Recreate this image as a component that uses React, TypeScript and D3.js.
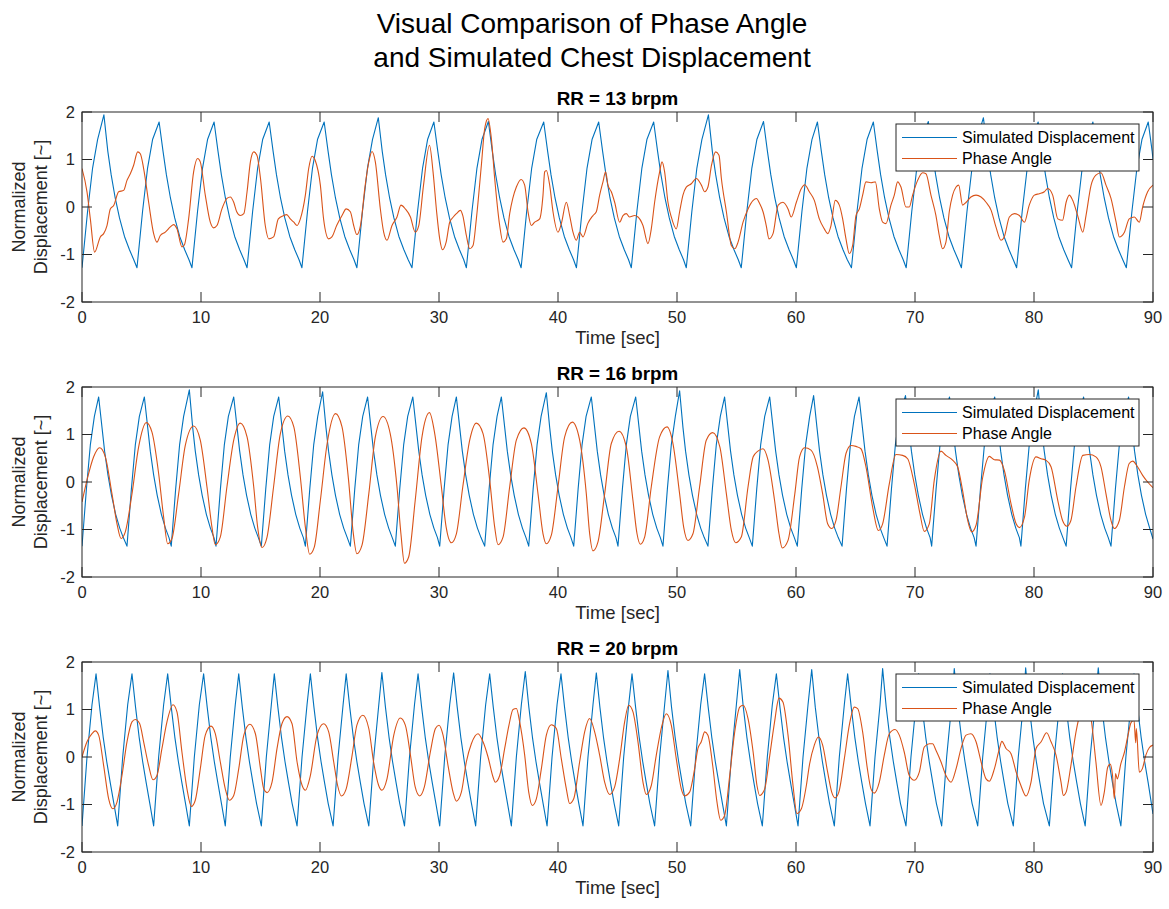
import React from "react";
import * as d3 from "d3";

type Pt = [number, number];

const timeTicks = [0, 10, 20, 30, 40, 50, 60, 70, 80, 90];
const valueTicks = [-2, -1, 0, 1, 2];
const mainTitle = ["Visual Comparison of Phase Angle", "and Simulated Chest Displacement"];
const panelTitles = ["RR = 13 brpm", "RR = 16 brpm", "RR = 20 brpm"];
const seriesNames = ["Simulated Displacement", "Phase Angle"];
const xLabel = "Time [sec]";
const yLabel = ["Normalized", "Displacement [~]"];

const displacement13: Pt[] = [
  [0,-1.28],[0.47,-0.09],[0.89,0.82],[1.31,1.42],[1.84,1.94],[2.17,1.17],[2.45,0.68],[2.79,0.19],[3.15,-0.23],[3.57,-0.62],[3.99,-0.9],[4.35,-1.11],
  [4.62,-1.28],[5.09,-0.09],[5.51,0.82],[5.93,1.42],[6.48,1.79],[6.81,1.17],[7.09,0.68],[7.43,0.19],[7.79,-0.23],[8.21,-0.62],[8.63,-0.9],[8.99,-1.11],
  [9.24,-1.28],[9.71,-0.09],[10.13,0.82],[10.55,1.42],[11.1,1.79],[11.43,1.17],[11.71,0.68],[12.05,0.19],[12.41,-0.23],[12.83,-0.62],[13.25,-0.9],[13.61,-1.11],
  [13.87,-1.28],[14.34,-0.09],[14.76,0.82],[15.18,1.42],[15.73,1.79],[16.06,1.17],[16.34,0.68],[16.68,0.19],[17.04,-0.23],[17.46,-0.62],[17.88,-0.9],[18.24,-1.11],
  [18.48,-1.28],[18.95,-0.09],[19.37,0.82],[19.79,1.42],[20.35,1.79],[20.68,1.17],[20.96,0.68],[21.3,0.19],[21.66,-0.23],[22.08,-0.62],[22.5,-0.9],[22.86,-1.11],
  [23.1,-1.28],[23.57,-0.09],[23.99,0.82],[24.41,1.42],[24.9,1.88],[25.23,1.17],[25.51,0.68],[25.85,0.19],[26.21,-0.23],[26.63,-0.62],[27.05,-0.9],[27.41,-1.11],
  [27.73,-1.28],[28.2,-0.09],[28.62,0.82],[29.04,1.42],[29.57,1.79],[29.9,1.17],[30.18,0.68],[30.52,0.19],[30.88,-0.23],[31.3,-0.62],[31.72,-0.9],[32.08,-1.11],
  [32.3,-1.28],[32.77,-0.09],[33.19,0.82],[33.61,1.42],[34.15,1.8],[34.48,1.17],[34.76,0.68],[35.1,0.19],[35.46,-0.23],[35.88,-0.62],[36.3,-0.9],[36.66,-1.11],
  [36.9,-1.28],[37.37,-0.09],[37.79,0.82],[38.21,1.42],[38.8,1.79],[39.13,1.17],[39.41,0.68],[39.75,0.19],[40.11,-0.23],[40.53,-0.62],[40.95,-0.9],[41.31,-1.11],
  [41.55,-1.28],[42.02,-0.09],[42.44,0.82],[42.86,1.42],[43.42,1.79],[43.75,1.17],[44.03,0.68],[44.37,0.19],[44.73,-0.23],[45.15,-0.62],[45.57,-0.9],[45.93,-1.11],
  [46.16,-1.28],[46.63,-0.09],[47.05,0.82],[47.47,1.42],[48.04,1.79],[48.37,1.17],[48.65,0.68],[48.99,0.19],[49.35,-0.23],[49.77,-0.62],[50.19,-0.9],[50.55,-1.11],
  [50.78,-1.28],[51.25,-0.09],[51.67,0.82],[52.09,1.42],[52.64,1.94],[52.97,1.17],[53.25,0.68],[53.59,0.19],[53.95,-0.23],[54.37,-0.62],[54.79,-0.9],[55.15,-1.11],
  [55.4,-1.28],[55.87,-0.09],[56.29,0.82],[56.71,1.42],[57.27,1.8],[57.6,1.17],[57.88,0.68],[58.22,0.19],[58.58,-0.23],[59.0,-0.62],[59.42,-0.9],[59.78,-1.11],
  [60.03,-1.28],[60.5,-0.09],[60.92,0.82],[61.34,1.42],[61.8,1.79],[62.13,1.17],[62.41,0.68],[62.75,0.19],[63.11,-0.23],[63.53,-0.62],[63.95,-0.9],[64.31,-1.11],
  [64.66,-1.28],[65.13,-0.09],[65.55,0.82],[65.97,1.42],[66.5,1.79],[66.83,1.17],[67.11,0.68],[67.45,0.19],[67.81,-0.23],[68.23,-0.62],[68.65,-0.9],[69.01,-1.11],
  [69.26,-1.28],[69.73,-0.09],[70.15,0.82],[70.57,1.42],[71.12,1.8],[71.45,1.17],[71.73,0.68],[72.07,0.19],[72.43,-0.23],[72.85,-0.62],[73.27,-0.9],[73.63,-1.11],
  [73.9,-1.28],[74.37,-0.09],[74.79,0.82],[75.21,1.42],[75.75,1.88],[76.08,1.17],[76.36,0.68],[76.7,0.19],[77.06,-0.23],[77.48,-0.62],[77.9,-0.9],[78.26,-1.11],
  [78.54,-1.28],[79.01,-0.09],[79.43,0.82],[79.85,1.42],[80.35,1.79],[80.68,1.17],[80.96,0.68],[81.3,0.19],[81.66,-0.23],[82.08,-0.62],[82.5,-0.9],[82.86,-1.11],
  [83.16,-1.28],[83.63,-0.09],[84.05,0.82],[84.47,1.42],[84.95,1.79],[85.28,1.17],[85.56,0.68],[85.9,0.19],[86.26,-0.23],[86.68,-0.62],[87.1,-0.9],[87.46,-1.11],
  [87.76,-1.28],[88.23,-0.09],[88.65,0.82],[89.07,1.42],[89.6,1.79],[89.93,1.17],[90,1.0]
];

const phase13: Pt[] = [
  [0,0.81],[0.42,0.32],[0.7,-0.25],[1.06,-0.95],[1.54,-0.63],[1.82,-0.56],[2.1,-0.39],[2.38,-0.04],[2.66,0.03],[3.08,0.32],[3.5,0.35],[3.78,0.56],[4.06,0.7],[4.34,0.88],[4.68,1.16],[4.9,1.12],[5.18,0.81],[5.6,0.1],[6.02,-0.56],[6.3,-0.74],[6.58,-0.6],[7.0,-0.53],[7.42,-0.42],[7.7,-0.37],[7.98,-0.46],[8.4,-0.84],[8.6,-0.8],[8.96,-0.25],[9.38,0.74],[9.72,1.02],[9.94,0.95],[10.36,0.25],[10.78,-0.32],[11.06,-0.44],[11.34,-0.39],[11.76,-0.04],[12.18,0.18],[12.46,0.21],[12.75,0.1],[13.0,-0.1],[13.3,-0.18],[13.6,-0.14],[13.87,0.32],[14.15,0.95],[14.43,1.16],[14.7,1.09],[15.0,0.6],[15.4,-0.39],[15.7,-0.67],[16.1,-0.63],[16.5,-0.25],[16.95,-0.18],[17.2,-0.16],[17.5,-0.25],[17.8,-0.32],[18.07,-0.39],[18.35,-0.25],[18.77,0.25],[19.05,0.81],[19.33,1.07],[19.6,0.98],[20.03,0.46],[20.3,-0.25],[20.73,-0.67],[21.0,-0.63],[21.4,-0.39],[21.85,-0.18],[22.2,-0.04],[22.55,-0.1],[22.83,-0.39],[23.1,-0.58],[23.4,-0.39],[23.8,0.46],[24.1,0.95],[24.37,1.17],[24.65,0.95],[25.07,-0.04],[25.35,-0.53],[25.63,-0.7],[26.05,-0.39],[26.47,-0.21],[26.8,0.04],[27.17,-0.04],[27.6,-0.21],[28.0,-0.53],[28.3,-0.39],[28.7,0.46],[29.2,1.3],[29.5,0.74],[29.8,-0.1],[30.06,-0.67],[30.3,-0.9],[30.6,-0.74],[30.9,-0.32],[31.2,-0.21],[31.46,-0.14],[31.8,-0.07],[32.0,-0.18],[32.3,-0.6],[32.58,-0.88],[32.86,-0.81],[33.14,-0.25],[33.56,0.88],[33.84,1.65],[34.12,1.86],[34.4,1.44],[34.68,0.6],[35.1,-0.39],[35.38,-0.74],[35.66,-0.67],[35.94,-0.14],[36.2,0.18],[36.5,0.42],[36.9,0.58],[37.2,0.46],[37.48,-0.1],[37.76,-0.39],[38.04,-0.32],[38.46,-0.25],[38.74,0.25],[38.88,0.74],[39.02,0.77],[39.3,0.46],[39.58,-0.1],[40.0,-0.53],[40.28,-0.35],[40.7,0.1],[40.98,-0.18],[41.26,-0.53],[41.54,-0.7],[41.82,-0.53],[42.1,-0.63],[42.5,-0.35],[42.94,-0.18],[43.22,-0.1],[43.5,0.25],[43.78,0.53],[44.0,0.74],[44.2,0.46],[44.48,0.32],[44.76,0.1],[45.18,-0.32],[45.46,-0.18],[45.74,-0.14],[46.0,-0.21],[46.44,-0.18],[46.72,-0.21],[47.14,-0.39],[47.56,-0.77],[47.84,-0.46],[48.12,0.1],[48.54,0.74],[48.74,0.95],[48.96,0.74],[49.24,0.1],[49.52,-0.21],[49.94,-0.46],[50.22,-0.1],[50.5,0.25],[50.78,0.42],[51.2,0.49],[51.62,0.6],[52.05,0.46],[52.33,0.32],[52.6,0.42],[52.9,0.88],[53.25,1.16],[53.53,1.09],[53.73,0.6],[54.15,-0.1],[54.57,-0.81],[54.85,-0.88],[55.13,-0.74],[55.55,-0.32],[55.97,-0.04],[56.4,0.14],[56.67,0.18],[56.95,0.07],[57.23,-0.1],[57.5,-0.39],[57.73,-0.67],[58.07,-0.56],[58.5,0.04],[58.9,0.1],[59.33,-0.04],[59.6,-0.21],[60.03,0.1],[60.45,0.39],[60.73,0.47],[61.12,0.32],[61.54,0.14],[61.96,-0.25],[62.38,-0.46],[62.66,-0.56],[62.94,-0.39],[63.3,0.14],[63.64,0.04],[63.92,-0.25],[64.2,-0.67],[64.48,-0.98],[64.76,-0.81],[65.04,-0.18],[65.32,-0.04],[65.6,0.25],[65.88,0.53],[66.3,0.51],[66.67,0.53],[67.0,-0.04],[67.28,-0.32],[67.56,-0.35],[67.98,0.04],[68.26,0.25],[68.54,0.53],[68.82,0.42],[69.24,0.0],[69.52,0.0],[69.8,0.25],[70.22,0.56],[70.64,0.72],[70.92,0.7],[71.34,0.25],[71.76,-0.18],[72.04,-0.6],[72.32,-0.88],[72.6,-0.74],[72.88,-0.1],[73.16,0.25],[73.45,0.42],[73.67,0.46],[74.0,0.04],[74.3,0.1],[74.7,0.21],[75.13,0.25],[75.55,0.21],[75.97,0.1],[76.4,-0.07],[76.8,-0.42],[77.23,-0.7],[77.5,-0.63],[77.93,-0.21],[78.35,-0.14],[78.77,-0.18],[79.2,-0.32],[79.6,0.04],[80.03,0.25],[80.45,0.28],[80.87,0.32],[81.15,0.39],[81.57,0.25],[82.0,-0.25],[82.4,-0.28],[82.7,0.1],[82.97,0.25],[83.25,0.14],[83.67,-0.18],[84.1,-0.53],[84.37,-0.18],[84.8,0.46],[85.2,0.67],[85.63,0.72],[86.05,0.46],[86.47,0.18],[86.9,-0.32],[87.17,-0.63],[87.6,-0.53],[88.0,-0.25],[88.43,-0.21],[88.85,-0.32],[89.13,0.0],[89.55,0.32],[90,0.46]
];

const displacement16: Pt[] = [
  [0,-1.35],[0.37,-0.15],[0.7,0.78],[1.04,1.38],[1.4,1.79],[1.68,1.15],[1.9,0.65],[2.18,0.15],[2.48,-0.28],[2.83,-0.68],[3.17,-0.97],[3.47,-1.17],
  [3.78,-1.35],[4.15,-0.15],[4.48,0.78],[4.82,1.38],[5.24,1.79],[5.52,1.15],[5.74,0.65],[6.02,0.15],[6.32,-0.28],[6.67,-0.68],[7.01,-0.97],[7.31,-1.17],
  [7.5,-1.35],[7.87,-0.15],[8.2,0.78],[8.54,1.38],[9.02,1.94],[9.3,1.15],[9.52,0.65],[9.8,0.15],[10.1,-0.28],[10.45,-0.68],[10.79,-0.97],[11.09,-1.17],
  [11.26,-1.35],[11.63,-0.15],[11.96,0.78],[12.3,1.38],[12.75,1.79],[13.03,1.15],[13.25,0.65],[13.53,0.15],[13.83,-0.28],[14.18,-0.68],[14.52,-0.97],[14.82,-1.17],
  [15.07,-1.35],[15.44,-0.15],[15.77,0.78],[16.11,1.38],[16.53,1.79],[16.81,1.15],[17.03,0.65],[17.31,0.15],[17.61,-0.28],[17.96,-0.68],[18.3,-0.97],[18.6,-1.17],
  [18.77,-1.35],[19.14,-0.15],[19.47,0.78],[19.81,1.38],[20.22,1.9],[20.5,1.15],[20.72,0.65],[21.0,0.15],[21.3,-0.28],[21.65,-0.68],[21.99,-0.97],[22.29,-1.17],
  [22.55,-1.35],[22.92,-0.15],[23.25,0.78],[23.59,1.38],[24.0,1.79],[24.28,1.15],[24.5,0.65],[24.78,0.15],[25.08,-0.28],[25.43,-0.68],[25.77,-0.97],[26.07,-1.17],
  [26.33,-1.35],[26.7,-0.15],[27.03,0.78],[27.37,1.38],[27.8,1.79],[28.08,1.15],[28.3,0.65],[28.58,0.15],[28.88,-0.28],[29.23,-0.68],[29.57,-0.97],[29.87,-1.17],
  [30.06,-1.35],[30.43,-0.15],[30.76,0.78],[31.1,1.38],[31.46,1.79],[31.74,1.15],[31.96,0.65],[32.24,0.15],[32.54,-0.28],[32.89,-0.68],[33.23,-0.97],[33.53,-1.17],
  [33.84,-1.35],[34.21,-0.15],[34.54,0.78],[34.88,1.38],[35.24,1.79],[35.52,1.15],[35.74,0.65],[36.02,0.15],[36.32,-0.28],[36.67,-0.68],[37.01,-0.97],[37.31,-1.17],
  [37.54,-1.35],[37.91,-0.15],[38.24,0.78],[38.58,1.38],[39.02,1.88],[39.3,1.15],[39.52,0.65],[39.8,0.15],[40.1,-0.28],[40.45,-0.68],[40.79,-0.97],[41.09,-1.17],
  [41.32,-1.35],[41.69,-0.15],[42.02,0.78],[42.36,1.38],[42.8,1.79],[43.08,1.15],[43.3,0.65],[43.58,0.15],[43.88,-0.28],[44.23,-0.68],[44.57,-0.97],[44.87,-1.17],
  [45.04,-1.35],[45.41,-0.15],[45.74,0.78],[46.08,1.38],[46.53,1.79],[46.81,1.15],[47.03,0.65],[47.31,0.15],[47.61,-0.28],[47.96,-0.68],[48.3,-0.97],[48.6,-1.17],
  [48.82,-1.35],[49.19,-0.15],[49.52,0.78],[49.86,1.38],[50.22,1.92],[50.5,1.15],[50.72,0.65],[51.0,0.15],[51.3,-0.28],[51.65,-0.68],[51.99,-0.97],[52.29,-1.17],
  [52.6,-1.35],[52.97,-0.15],[53.3,0.78],[53.64,1.38],[54.0,1.79],[54.28,1.15],[54.5,0.65],[54.78,0.15],[55.08,-0.28],[55.43,-0.68],[55.77,-0.97],[56.07,-1.17],
  [56.33,-1.35],[56.7,-0.15],[57.03,0.78],[57.37,1.38],[57.79,1.79],[58.07,1.15],[58.29,0.65],[58.57,0.15],[58.87,-0.28],[59.22,-0.68],[59.56,-0.97],[59.86,-1.17],
  [60.11,-1.35],[60.48,-0.15],[60.81,0.78],[61.15,1.38],[61.48,1.82],[61.76,1.15],[61.98,0.65],[62.26,0.15],[62.56,-0.28],[62.91,-0.68],[63.25,-0.97],[63.55,-1.17],
  [63.87,-1.35],[64.24,-0.15],[64.57,0.78],[64.91,1.38],[65.3,1.79],[65.58,1.15],[65.8,0.65],[66.08,0.15],[66.38,-0.28],[66.73,-0.68],[67.07,-0.97],[67.37,-1.17],
  [67.65,-1.35],[68.02,-0.15],[68.35,0.78],[68.69,1.38],[69.2,1.82],[69.48,1.15],[69.7,0.65],[69.98,0.15],[70.28,-0.28],[70.63,-0.68],[70.97,-0.97],[71.27,-1.17],
  [71.4,-1.35],[71.77,-0.15],[72.1,0.78],[72.44,1.38],[72.9,1.79],[73.18,1.15],[73.4,0.65],[73.68,0.15],[73.98,-0.28],[74.33,-0.68],[74.67,-0.97],[74.97,-1.17],
  [75.13,-1.35],[75.5,-0.15],[75.83,0.78],[76.17,1.38],[76.7,1.79],[76.98,1.15],[77.2,0.65],[77.48,0.15],[77.78,-0.28],[78.13,-0.68],[78.47,-0.97],[78.77,-1.17],
  [78.9,-1.35],[79.27,-0.15],[79.6,0.78],[79.94,1.38],[80.36,1.94],[80.64,1.15],[80.86,0.65],[81.14,0.15],[81.44,-0.28],[81.79,-0.68],[82.13,-0.97],[82.43,-1.17],
  [82.7,-1.35],[83.07,-0.15],[83.4,0.78],[83.74,1.38],[84.17,1.79],[84.45,1.15],[84.67,0.65],[84.95,0.15],[85.25,-0.28],[85.6,-0.68],[85.94,-0.97],[86.24,-1.17],
  [86.47,-1.35],[86.84,-0.15],[87.17,0.78],[87.51,1.38],[87.95,1.79],[88.23,1.15],[88.45,0.65],[88.73,0.15],[89.03,-0.28],[89.38,-0.68],[89.72,-0.97],[90,-1.2]
];

const phase16: Pt[] = [
  [0,-0.42],[0.42,0.04],[0.98,0.53],[1.48,0.72],[1.96,0.53],[2.52,-0.25],[2.94,-0.88],[3.28,-1.19],[3.64,-1.05],[4.2,-0.25],[4.76,0.74],[5.4,1.25],[5.88,1.05],[6.44,0.18],[6.86,-0.74],[7.2,-1.3],[7.56,-1.19],[8.12,-0.25],[8.68,0.77],[9.38,1.18],[9.94,0.88],[10.5,-0.1],[10.92,-0.95],[11.2,-1.32],[11.62,-1.16],[12.18,-0.1],[12.75,0.88],[13.3,1.24],[13.87,0.95],[14.43,-0.1],[14.76,-0.95],[15.13,-1.38],[15.55,-1.16],[16.1,-0.1],[16.67,1.02],[17.3,1.39],[17.8,1.16],[18.35,0.1],[18.77,-0.95],[19.13,-1.52],[19.52,-1.37],[20.03,-0.39],[20.6,0.81],[21.3,1.44],[21.85,1.16],[22.4,0.04],[22.77,-1.02],[23.1,-1.51],[23.53,-1.33],[24.1,-0.25],[24.65,0.95],[25.3,1.38],[25.9,1.02],[26.47,-0.1],[26.8,-1.09],[27.1,-1.71],[27.45,-1.58],[28.0,-0.39],[28.57,0.95],[29.2,1.46],[29.64,1.02],[30.2,-0.1],[30.6,-0.95],[31.04,-1.28],[31.46,-1.09],[32.0,-0.1],[32.58,0.88],[33.14,1.24],[33.7,1.02],[34.26,0.04],[34.68,-0.95],[34.96,-1.32],[35.38,-1.16],[35.94,-0.1],[36.5,0.88],[37.14,1.14],[37.76,0.81],[38.32,-0.25],[38.74,-1.09],[39.02,-1.3],[39.44,-1.12],[40.0,-0.1],[40.56,0.95],[41.2,1.26],[41.82,0.88],[42.38,-0.25],[42.66,-1.09],[42.94,-1.45],[43.36,-1.26],[43.92,-0.25],[44.48,0.81],[45.13,1.07],[45.74,0.74],[46.3,-0.39],[46.64,-1.09],[46.92,-1.31],[47.28,-1.16],[47.84,-0.1],[48.54,0.95],[49.16,1.16],[49.66,0.81],[50.22,-0.25],[50.56,-0.95],[50.92,-1.23],[51.34,-1.09],[51.9,-0.1],[52.46,0.88],[53.0,1.04],[53.6,0.74],[54.15,-0.25],[54.57,-1.02],[54.93,-1.28],[55.4,-1.16],[55.97,-0.1],[56.4,0.53],[56.8,0.65],[57.23,0.7],[57.65,0.46],[58.2,-0.39],[58.57,-1.09],[58.85,-1.39],[59.33,-1.23],[59.9,-0.25],[60.3,0.53],[60.73,0.72],[61.26,0.67],[61.8,0.32],[62.24,-0.25],[62.66,-0.88],[63.0,-0.98],[63.36,-0.81],[63.78,-0.1],[64.2,0.6],[64.62,0.77],[65.04,0.75],[65.46,0.7],[65.88,0.32],[66.44,-0.53],[66.92,-1.02],[67.28,-0.88],[67.84,-0.04],[68.4,0.58],[68.96,0.56],[69.38,0.49],[69.94,-0.04],[70.42,-0.67],[70.78,-1.04],[71.2,-0.88],[71.62,0.04],[72.18,0.65],[72.6,0.56],[73.16,0.46],[73.58,0.32],[74.0,-0.18],[74.43,-0.81],[74.76,-1.05],[75.13,-0.91],[75.69,0.1],[76.25,0.54],[76.67,0.47],[77.1,0.46],[77.5,0.25],[78.07,-0.46],[78.5,-0.88],[78.77,-0.96],[79.2,-0.74],[79.6,0.04],[80.17,0.53],[80.6,0.49],[81.0,0.46],[81.43,0.32],[82.0,-0.39],[82.4,-0.81],[82.77,-0.93],[83.1,-0.81],[83.53,-0.1],[84.1,0.56],[84.65,0.58],[85.2,0.53],[85.63,0.32],[86.05,-0.25],[86.47,-0.81],[86.75,-0.98],[87.17,-0.81],[87.6,-0.1],[88.0,0.39],[88.3,0.44],[88.7,0.32],[89.13,0.14],[89.55,0.0],[90,-0.12]
];

const displacement20: Pt[] = [
  [0,-1.45],[0.42,0.0],[0.84,1.1],[1.18,1.75],[1.48,1.05],[1.78,0.42],[2.08,-0.1],[2.38,-0.55],[2.68,-0.98],
  [3.0,-1.45],[3.42,0.0],[3.84,1.1],[4.2,1.75],[4.5,1.05],[4.8,0.42],[5.1,-0.1],[5.4,-0.55],[5.7,-0.98],
  [6.02,-1.45],[6.44,0.0],[6.86,1.1],[7.2,1.75],[7.5,1.05],[7.8,0.42],[8.1,-0.1],[8.4,-0.55],[8.7,-0.98],
  [9.02,-1.45],[9.44,0.0],[9.86,1.1],[10.22,1.75],[10.52,1.05],[10.82,0.42],[11.12,-0.1],[11.42,-0.55],[11.72,-0.98],
  [12.04,-1.45],[12.46,0.0],[12.88,1.1],[13.17,1.75],[13.47,1.05],[13.77,0.42],[14.07,-0.1],[14.37,-0.55],[14.67,-0.98],
  [15.07,-1.45],[15.49,0.0],[15.91,1.1],[16.16,1.75],[16.46,1.05],[16.76,0.42],[17.06,-0.1],[17.36,-0.55],[17.66,-0.98],
  [18.07,-1.45],[18.49,0.0],[18.91,1.1],[19.19,1.75],[19.49,1.05],[19.79,0.42],[20.09,-0.1],[20.39,-0.55],[20.69,-0.98],
  [21.1,-1.45],[21.52,0.0],[21.94,1.1],[22.2,1.75],[22.5,1.05],[22.8,0.42],[23.1,-0.1],[23.4,-0.55],[23.7,-0.98],
  [24.1,-1.45],[24.52,0.0],[24.94,1.1],[25.2,1.78],[25.5,1.05],[25.8,0.42],[26.1,-0.1],[26.4,-0.55],[26.7,-0.98],
  [27.1,-1.45],[27.52,0.0],[27.94,1.1],[28.24,1.75],[28.54,1.05],[28.84,0.42],[29.14,-0.1],[29.44,-0.55],[29.74,-0.98],
  [30.06,-1.45],[30.48,0.0],[30.9,1.1],[31.23,1.77],[31.53,1.05],[31.83,0.42],[32.13,-0.1],[32.43,-0.55],[32.73,-0.98],
  [33.08,-1.45],[33.5,0.0],[33.92,1.1],[34.26,1.75],[34.56,1.05],[34.86,0.42],[35.16,-0.1],[35.46,-0.55],[35.76,-0.98],
  [36.08,-1.45],[36.5,0.0],[36.92,1.1],[37.25,1.8],[37.55,1.05],[37.85,0.42],[38.15,-0.1],[38.45,-0.55],[38.75,-0.98],
  [39.08,-1.45],[39.5,0.0],[39.92,1.1],[40.25,1.75],[40.55,1.05],[40.85,0.42],[41.15,-0.1],[41.45,-0.55],[41.75,-0.98],
  [42.1,-1.45],[42.52,0.0],[42.94,1.1],[43.22,1.77],[43.52,1.05],[43.82,0.42],[44.12,-0.1],[44.42,-0.55],[44.72,-0.98],
  [45.1,-1.45],[45.52,0.0],[45.94,1.1],[46.22,1.75],[46.52,1.05],[46.82,0.42],[47.12,-0.1],[47.42,-0.55],[47.72,-0.98],
  [48.12,-1.45],[48.54,0.0],[48.96,1.1],[49.24,1.82],[49.54,1.05],[49.84,0.42],[50.14,-0.1],[50.44,-0.55],[50.74,-0.98],
  [51.15,-1.45],[51.57,0.0],[51.99,1.1],[52.32,1.75],[52.62,1.05],[52.92,0.42],[53.22,-0.1],[53.52,-0.55],[53.82,-0.98],
  [54.15,-1.45],[54.57,0.0],[54.99,1.1],[55.27,1.84],[55.57,1.05],[55.87,0.42],[56.17,-0.1],[56.47,-0.55],[56.77,-0.98],
  [57.17,-1.45],[57.59,0.0],[58.01,1.1],[58.35,1.75],[58.65,1.05],[58.95,0.42],[59.25,-0.1],[59.55,-0.55],[59.85,-0.98],
  [60.17,-1.45],[60.59,0.0],[61.01,1.1],[61.32,1.84],[61.62,1.05],[61.92,0.42],[62.22,-0.1],[62.52,-0.55],[62.82,-0.98],
  [63.22,-1.45],[63.64,0.0],[64.06,1.1],[64.34,1.75],[64.64,1.05],[64.94,0.42],[65.24,-0.1],[65.54,-0.55],[65.84,-0.98],
  [66.22,-1.45],[66.64,0.0],[67.06,1.1],[67.28,1.86],[67.58,1.05],[67.88,0.42],[68.18,-0.1],[68.48,-0.55],[68.78,-0.98],
  [69.24,-1.45],[69.66,0.0],[70.08,1.1],[70.3,1.75],[70.6,1.05],[70.9,0.42],[71.2,-0.1],[71.5,-0.55],[71.8,-0.98],
  [72.24,-1.45],[72.66,0.0],[73.08,1.1],[73.3,1.86],[73.6,1.05],[73.9,0.42],[74.2,-0.1],[74.5,-0.55],[74.8,-0.98],
  [75.27,-1.45],[75.69,0.0],[76.11,1.1],[76.3,1.75],[76.6,1.05],[76.9,0.42],[77.2,-0.1],[77.5,-0.55],[77.8,-0.98],
  [78.26,-1.45],[78.68,0.0],[79.1,1.1],[79.3,1.88],[79.6,1.05],[79.9,0.42],[80.2,-0.1],[80.5,-0.55],[80.8,-0.98],
  [81.29,-1.45],[81.71,0.0],[82.13,1.1],[82.4,1.75],[82.7,1.05],[83.0,0.42],[83.3,-0.1],[83.6,-0.55],[83.9,-0.98],
  [84.3,-1.45],[84.72,0.0],[85.14,1.1],[85.4,1.88],[85.7,1.05],[86.0,0.42],[86.3,-0.1],[86.6,-0.55],[86.9,-0.98],
  [87.3,-1.45],[87.72,0.0],[88.14,1.1],[88.4,1.75],[88.7,1.05],[89.0,0.42],[89.3,-0.1],[89.6,-0.55],[90,-1.2]
];

const phase20: Pt[] = [
  [0,0.0],[0.42,0.32],[0.84,0.49],[1.12,0.55],[1.4,0.46],[1.82,-0.18],[2.24,-0.88],[2.6,-1.09],[2.94,-0.95],[3.36,-0.39],[3.78,0.32],[4.2,0.74],[4.48,0.79],[4.85,0.7],[5.18,0.32],[5.6,-0.18],[5.97,-0.48],[6.3,-0.39],[6.72,0.18],[7.14,0.74],[7.65,1.1],[7.98,0.95],[8.4,0.1],[8.82,-0.67],[9.19,-1.04],[9.52,-0.91],[9.94,-0.25],[10.36,0.46],[10.84,0.65],[11.2,0.49],[11.62,-0.1],[12.04,-0.67],[12.38,-0.91],[12.75,-0.81],[13.17,-0.25],[13.6,0.46],[14.1,0.69],[14.57,0.49],[15.0,-0.25],[15.27,-0.67],[15.55,-0.75],[15.97,-0.53],[16.39,0.18],[16.8,0.7],[17.23,0.85],[17.65,0.7],[18.07,-0.1],[18.5,-0.6],[18.77,-0.7],[19.19,-0.39],[19.75,0.46],[20.3,0.7],[20.73,0.53],[21.15,-0.1],[21.48,-0.6],[21.8,-0.82],[22.2,-0.67],[22.7,0.04],[23.1,0.67],[23.6,0.88],[24.1,0.6],[24.5,-0.1],[24.93,-0.6],[25.2,-0.7],[25.63,-0.46],[26.2,0.46],[26.75,0.82],[27.17,0.67],[27.6,0.04],[28.0,-0.63],[28.38,-0.82],[28.77,-0.63],[29.27,0.1],[29.7,0.6],[30.0,0.67],[30.34,0.46],[30.76,-0.18],[31.18,-0.74],[31.46,-0.93],[31.88,-0.74],[32.3,-0.1],[32.72,0.28],[33.28,0.49],[33.7,0.32],[34.12,0.0],[34.54,-0.42],[34.73,-0.53],[35.1,-0.39],[35.52,0.18],[35.88,0.67],[36.22,1.0],[36.5,1.02],[36.78,0.74],[37.2,0.04],[37.54,-0.74],[37.84,-1.02],[38.18,-0.88],[38.6,-0.25],[39.02,0.46],[39.44,0.68],[39.86,0.6],[40.28,-0.04],[40.7,-0.67],[40.98,-0.98],[41.32,-0.88],[41.82,-0.1],[42.24,0.53],[42.66,0.81],[43.08,0.53],[43.5,0.04],[43.92,-0.53],[44.34,-0.79],[44.76,-0.63],[45.18,-0.04],[45.6,0.74],[45.94,1.09],[46.3,0.95],[46.72,0.32],[47.14,-0.53],[47.42,-0.79],[47.84,-0.6],[48.26,0.04],[48.74,0.67],[49.1,0.91],[49.52,0.67],[49.94,-0.04],[50.36,-0.67],[50.64,-0.82],[51.06,-0.74],[51.48,-0.25],[51.76,0.18],[52.04,0.32],[52.33,0.53],[52.6,0.46],[53.0,-0.18],[53.36,-0.95],[53.67,-1.33],[54.0,-1.23],[54.43,-0.39],[54.85,0.53],[55.27,1.05],[55.55,1.09],[55.97,0.81],[56.4,0.1],[56.72,-0.6],[56.95,-0.81],[57.37,-0.67],[57.8,0.04],[58.2,0.74],[58.57,1.24],[58.9,1.16],[59.33,0.46],[59.75,-0.6],[60.08,-1.19],[60.45,-1.09],[60.87,-0.6],[61.12,-0.18],[61.54,0.25],[61.88,0.42],[62.24,0.25],[62.66,-0.32],[63.0,-0.74],[63.28,-0.86],[63.6,-0.74],[64.06,-0.04],[64.48,0.67],[64.9,1.05],[65.18,1.02],[65.6,0.53],[66.0,-0.25],[66.3,-0.67],[66.58,-0.76],[67.0,-0.53],[67.42,0.04],[67.84,0.49],[68.32,0.58],[68.68,0.46],[69.1,0.1],[69.52,-0.39],[69.94,-0.49],[70.36,-0.32],[70.78,0.21],[71.2,0.28],[71.48,0.28],[71.76,0.14],[72.18,-0.1],[72.6,-0.39],[73.03,-0.53],[73.45,-0.25],[73.87,0.18],[74.29,0.46],[74.7,0.49],[75.13,0.32],[75.55,-0.1],[75.97,-0.46],[76.25,-0.51],[76.67,-0.25],[77.1,0.18],[77.3,0.33],[77.65,0.18],[78.07,0.07],[78.5,-0.32],[78.9,-0.6],[79.33,-0.82],[79.75,-0.53],[80.17,0.18],[80.6,0.32],[81.06,0.51],[81.43,0.32],[81.85,0.04],[82.27,-0.53],[82.47,-0.81],[82.7,-0.74],[83.1,-0.18],[83.53,0.53],[83.95,0.98],[84.37,1.15],[84.8,0.8],[85.2,-0.1],[85.63,-1.02],[85.9,-0.75],[86.2,-0.21],[86.4,-0.15],[86.6,-0.39],[86.75,-0.88],[86.85,-0.35],[87.0,-0.46],[87.3,-0.14],[87.6,0.1],[87.9,0.46],[88.15,0.72],[88.4,0.78],[88.55,0.3],[88.6,0.6],[88.85,-0.32],[89.1,-0.25],[89.4,0.04],[89.7,0.2],[90,0.25]
];

const displacementSeries = [displacement13, displacement16, displacement20];
const phaseSeries = [phase13, phase16, phase20];

const W = 1169;
const H = 909;
const PLOT_LEFT = 82;
const PLOT_RIGHT = 1153;
const PANEL_TOPS = [112, 387, 662];
const PANEL_H = 190;
const AXIS_COLOR = "#262626";
const BLUE = "#0072BD";
const ORANGE = "#D95319";
const FONT = "'Liberation Sans', Arial, Helvetica, sans-serif";

function Panel({ idx }: { idx: number }) {
  const top = PANEL_TOPS[idx];
  const bottom = top + PANEL_H;
  const x = d3.scaleLinear().domain([0, 90]).range([PLOT_LEFT, PLOT_RIGHT]);
  const y = d3.scaleLinear().domain([-2, 2]).range([bottom, top]);
  const blueLine = d3.line<Pt>().x((d) => x(d[0])).y((d) => y(d[1])).curve(d3.curveLinear);
  const orangeLine = d3.line<Pt>().x((d) => x(d[0])).y((d) => y(d[1])).curve(d3.curveMonotoneX);
  const clipId = `clip-${idx}`;
  const tickLen = 10;
  const midX = (PLOT_LEFT + PLOT_RIGHT) / 2;
  const midY = (top + bottom) / 2;
  const legX = 896, legY = top + 12, legW = 243, legH = 47;
  return (
    <g>
      <defs>
        <clipPath id={clipId}>
          <rect x={PLOT_LEFT} y={top} width={PLOT_RIGHT - PLOT_LEFT} height={PANEL_H} />
        </clipPath>
      </defs>
      <rect x={PLOT_LEFT} y={top} width={PLOT_RIGHT - PLOT_LEFT} height={PANEL_H} fill="#fff" />
      <g clipPath={`url(#${clipId})`}>
        <path d={blueLine(displacementSeries[idx]) || ""} fill="none" stroke={BLUE} strokeWidth={1.1} strokeLinejoin="round" />
        <path d={orangeLine(phaseSeries[idx]) || ""} fill="none" stroke={ORANGE} strokeWidth={1.1} strokeLinejoin="round" />
      </g>
      {timeTicks.map((t) => (
        <g key={`xt${t}`}>
          <line x1={x(t)} x2={x(t)} y1={bottom} y2={bottom - tickLen} stroke={AXIS_COLOR} strokeWidth={1} />
          <line x1={x(t)} x2={x(t)} y1={top} y2={top + tickLen} stroke={AXIS_COLOR} strokeWidth={1} />
          <text x={x(t)} y={bottom + 21} textAnchor="middle" fontSize={16.5} fill={AXIS_COLOR} fontFamily={FONT}>{t}</text>
        </g>
      ))}
      {valueTicks.map((v) => (
        <g key={`yt${v}`}>
          <line x1={PLOT_LEFT} x2={PLOT_LEFT + tickLen} y1={y(v)} y2={y(v)} stroke={AXIS_COLOR} strokeWidth={1} />
          <line x1={PLOT_RIGHT} x2={PLOT_RIGHT - tickLen} y1={y(v)} y2={y(v)} stroke={AXIS_COLOR} strokeWidth={1} />
          <text x={PLOT_LEFT - 7} y={y(v)} dy="0.35em" textAnchor="end" fontSize={16.5} fill={AXIS_COLOR} fontFamily={FONT}>{v}</text>
        </g>
      ))}
      <rect x={PLOT_LEFT} y={top} width={PLOT_RIGHT - PLOT_LEFT} height={PANEL_H} fill="none" stroke={AXIS_COLOR} strokeWidth={1} />
      <text x={midX} y={top - 7} textAnchor="middle" fontSize={18.8} fontWeight="bold" fill="#000" fontFamily={FONT}>{panelTitles[idx]}</text>
      <text x={midX} y={bottom + 42} textAnchor="middle" fontSize={18.5} fill={AXIS_COLOR} fontFamily={FONT}>{xLabel}</text>
      <text transform={`translate(25,${midY}) rotate(-90)`} textAnchor="middle" fontSize={18} fill={AXIS_COLOR} fontFamily={FONT}>{yLabel[0]}</text>
      <text transform={`translate(47,${midY}) rotate(-90)`} textAnchor="middle" fontSize={18} fill={AXIS_COLOR} fontFamily={FONT}>{yLabel[1]}</text>
      <rect x={legX} y={legY} width={legW} height={legH} fill="#fff" stroke={AXIS_COLOR} strokeWidth={1} />
      {seriesNames.map((name, i) => {
        const ly = legY + 13.5 + i * 21;
        return (
          <g key={name}>
            <line x1={legX + 6} x2={legX + 61} y1={ly} y2={ly} stroke={i === 0 ? BLUE : ORANGE} strokeWidth={1.1} />
            <text x={legX + 66} y={ly} dy="0.35em" fontSize={16} fill="#000" fontFamily={FONT}>{name}</text>
          </g>
        );
      })}
    </g>
  );
}

export default function App() {
  return (
    <svg width={W} height={H} viewBox={`0 0 ${W} ${H}`} style={{ position: "absolute", left: 0, top: 0, background: "#fff" }}>
      <rect x={0} y={0} width={W} height={H} fill="#fff" />
      <text x={592} y={33} textAnchor="middle" fontSize={28} fill="#000" fontFamily={FONT}>{mainTitle[0]}</text>
      <text x={592} y={67} textAnchor="middle" fontSize={28} fill="#000" fontFamily={FONT}>{mainTitle[1]}</text>
      {[0, 1, 2].map((i) => (
        <Panel key={i} idx={i} />
      ))}
    </svg>
  );
}
